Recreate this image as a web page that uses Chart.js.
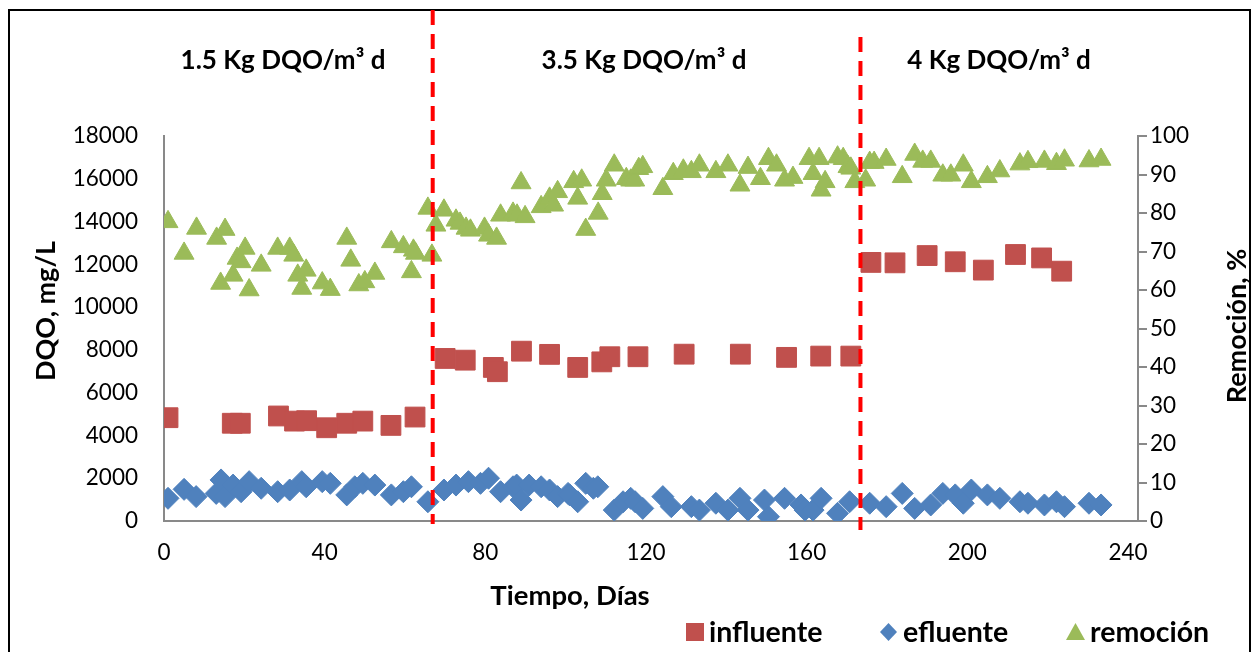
<!DOCTYPE html>
<html><head><meta charset="utf-8">
<script src="https://cdn.jsdelivr.net/npm/chart.js@4/dist/chart.umd.min.js"></script>
<style>html,body{margin:0;padding:0;background:#fff;}#wrap{width:1256px;height:652px;}</style>
</head><body><div id="wrap"><canvas id="c" width="1256" height="652"></canvas></div>
<script>
// ---- data ----
const influenteDays = [1,17,19,28.5,32.5,35.5,40.5,45.5,49.5,56.5,62.5,70,75,82,83,89,96,103,109,111,118,129.5,143.5,155,163.5,171,176,182,190,197,204,212,218.5,223.5];
const influenteValues = [4830,4570,4570,4910,4670,4690,4360,4570,4670,4470,4860,7600,7520,7180,6980,7940,7790,7180,7440,7680,7680,7800,7800,7650,7710,7710,12090,12070,12410,12120,11730,12460,12300,11680];

const efluenteDays = [1,5,8,13,14.2,15.2,17.2,19.2,21.2,24.2,28.3,31.3,34.3,35.4,39.4,41.4,45.5,47.5,49.5,52.5,56.6,59.6,61.6,65.7,69.7,72.7,75.8,78.8,80.8,83.8,86.9,87.8,88.9,90.9,93.9,96,98,100.6,101,103,105,106.9,108,112.1,114.3,116.2,117.3,119.2,124.2,126.3,131.3,133.3,137.4,140.4,143.4,145.4,149.5,150.5,154.5,158.6,159.6,161.6,163.6,167.7,170.7,175.7,179.8,183.8,186.9,190.9,193.9,197,199,201,205,208.1,213.1,215.1,219.2,222.2,224.2,230.3,233.3];
const efluenteValues = [1060,1480,1140,1290,1920,1140,1680,1370,1840,1530,1370,1450,1840,1600,1840,1760,1220,1600,1760,1680,1220,1370,1600,900,1450,1680,1840,1760,2000,1370,1600,1680,980,1680,1600,1450,1140,1290,1220,900,1760,1530,1600,510,900,1060,900,590,1140,670,670,510,830,510,1060,510,980,200,1060,750,510,510,1060,360,900,830,670,1290,590,750,1290,1220,830,1450,1220,1060,900,830,750,900,670,830,750];

const remocionDays = [1,5,8.1,13.1,14.1,15.2,17.2,18.2,19.2,20.2,21.2,24.2,28.3,31.3,32.3,33.3,34.3,35.4,39.4,41.4,45.5,46.5,48.5,50,52.5,56.6,59.6,61.6,62.1,62.6,65.7,66.7,67.7,69.7,72.7,73.7,75.2,76.3,79.8,80.8,82.8,83.8,86.9,87.9,88.9,89.9,93.9,96,97,98,102,103,104,105,108.1,109.1,110.1,112.1,115.1,116.2,117.2,118.2,119.2,124.2,126.8,129.3,131.3,133.3,137.4,140.4,143.4,145.4,148.5,150.5,152.5,154.5,156.6,160.6,161.6,163.1,163.6,164.6,167.7,169.1,170.3,171,172,174.7,175.7,176.8,179.8,183.8,186.9,188.9,190.9,193.9,195.9,199,201,205,208.1,213.1,215.1,219.2,222.2,224.2,230.3,233.3];
const remocionValues = [77.7,69.5,76.0,73.4,61.7,75.7,63.8,68.2,67.3,70.8,60.0,66.4,70.8,70.8,69.0,63.8,60.4,65.1,61.8,60.1,73.4,67.7,61.3,62.1,64.3,72.5,71.2,64.7,70.3,69.5,81.2,69.0,76.8,80.7,78.1,77.3,76.0,75.5,76.0,74.2,73.4,79.4,79.9,79.4,87.8,79.0,81.6,83.8,82.0,85.5,88.1,83.8,88.5,75.7,79.9,85.0,88.5,92.4,88.9,88.5,88.5,91.5,92.0,86.3,90.2,91.1,90.7,92.4,90.7,92.4,87.2,91.8,88.9,94.1,92.4,88.5,89.2,94.1,90.2,94.1,85.9,88.1,94.5,94.1,92.0,91.6,88.1,88.5,93.1,93.1,93.9,89.4,95.2,93.4,93.4,89.8,89.8,92.4,88.1,89.4,90.9,92.7,93.3,93.4,92.8,93.7,93.5,93.9];

const xTicks = [0,40,80,120,160,200,240];
const yLeftTicks = [0,2000,4000,6000,8000,10000,12000,14000,16000,18000];
const yRightTicks = [0,10,20,30,40,50,60,70,80,90,100];
const phaseBoundaries = [66.9, 173.4];
const phaseLabels = ['1.5 Kg DQO/m³ d', '3.5 Kg DQO/m³ d', '4 Kg DQO/m³ d'];
const seriesNames = ['influente', 'efluente', 'remoción'];

// ---- styles ----
const RED = '#C0504D', BLUE = '#4F81BD', GREEN = '#9BBB59', AXIS = '#898989';
const FONT = 'Lato';
const pts = (xs, ys) => xs.map((x, i) => ({x, y: ys[i]}));

const overlay = {
  id: 'overlay',
  afterDraw(chart) {
    const ctx = chart.ctx, xs = chart.scales.x;
    ctx.save();
    // outer frame
    ctx.strokeStyle = '#000'; ctx.lineWidth = 2;
    ctx.strokeRect(9, 10, 1241, 700);
    // dashed phase lines
    ctx.strokeStyle = '#FF0000'; ctx.lineWidth = 4; ctx.setLineDash([15, 9]);
    const tops = [10, 37], bots = [524, 530];
    phaseBoundaries.forEach((d, i) => {
      const px = xs.getPixelForValue(d);
      ctx.beginPath(); ctx.moveTo(px, tops[i]); ctx.lineTo(px, bots[i]); ctx.stroke();
    });
    ctx.setLineDash([]);
    // phase labels
    ctx.fillStyle = '#000';
    ctx.font = 'bold 26px ' + FONT;
    ctx.textAlign = 'center'; ctx.textBaseline = 'alphabetic';
    const labelCenters = [283, 644, 999];
    phaseLabels.forEach((t, i) => ctx.fillText(t, labelCenters[i], 69));
    // axis titles
    ctx.font = 'bold 27.5px ' + FONT;
    ctx.fillText('Tiempo, Días', 570, 605);
    ctx.font = 'bold 27px ' + FONT;
    ctx.save(); ctx.translate(55, 311); ctx.rotate(-Math.PI / 2); ctx.fillText('DQO, mg/L', 0, 0); ctx.restore();
    ctx.save(); ctx.translate(1246, 326); ctx.rotate(-Math.PI / 2); ctx.fillText('Remoción, %', 0, 0); ctx.restore();
    // legend
    ctx.font = 'bold 28.5px ' + FONT; ctx.textAlign = 'left';
    const ly = 632;
    ctx.fillStyle = RED; ctx.fillRect(686, ly - 9, 18, 18);
    ctx.fillStyle = BLUE; ctx.beginPath();
    ctx.moveTo(888.5, ly - 9); ctx.lineTo(897, ly); ctx.lineTo(888.5, ly + 9); ctx.lineTo(880, ly); ctx.closePath(); ctx.fill();
    ctx.fillStyle = GREEN; ctx.beginPath();
    ctx.moveTo(1075.5, ly - 9); ctx.lineTo(1085, ly + 8); ctx.lineTo(1066, ly + 8); ctx.closePath(); ctx.fill();
    ctx.fillStyle = '#000';
    ctx.fillText(seriesNames[0], 709, ly + 10);
    ctx.fillText(seriesNames[1], 903, ly + 10);
    ctx.fillText(seriesNames[2], 1090, ly + 10);
    ctx.restore();
  }
};

const tickFont = {family: FONT, size: 22.5};
const plain = v => String(v);
new Chart(document.getElementById('c'), {
  type: 'scatter',
  data: {
    datasets: [
      {label: seriesNames[0], data: pts(influenteDays, influenteValues), yAxisID: 'y', pointStyle: 'rect', pointRadius: 14, backgroundColor: RED, borderColor: RED, borderWidth: 1},
      {label: seriesNames[1], data: pts(efluenteDays, efluenteValues), yAxisID: 'y', pointStyle: 'rectRot', pointRadius: 11, backgroundColor: BLUE, borderColor: BLUE, borderWidth: 1},
      {label: seriesNames[2], data: pts(remocionDays, remocionValues), yAxisID: 'y2', pointStyle: 'triangle', pointRadius: 11.5, backgroundColor: GREEN, borderColor: GREEN, borderWidth: 1}
    ]
  },
  options: {
    responsive: false, animation: false, events: [], devicePixelRatio: 1,
    layout: {padding: {top: 136, left: 0, right: 0, bottom: 0}},
    plugins: {legend: {display: false}, tooltip: {enabled: false}},
    scales: {
      x: {
        type: 'linear', min: 0, max: 242.5,
        afterBuildTicks: s => { s.ticks = xTicks.map(v => ({value: v})); },
        ticks: {font: tickFont, color: '#000', padding: 18, maxRotation: 0, callback: plain},
        grid: {drawOnChartArea: false, drawTicks: false},
        border: {display: true, color: AXIS, width: 2},
        afterFit: s => { s.height = 131; }
      },
      y: {
        position: 'left', min: 0, max: 18000,
        afterBuildTicks: s => { s.ticks = yLeftTicks.map(v => ({value: v})); },
        ticks: {font: tickFont, color: '#000', padding: 26, callback: plain},
        grid: {drawOnChartArea: false, drawTicks: false},
        border: {display: true, color: AXIS, width: 2},
        afterFit: s => { s.width = 164; }
      },
      y2: {
        position: 'right', min: 0, max: 100,
        afterBuildTicks: s => { s.ticks = yRightTicks.map(v => ({value: v})); },
        ticks: {font: tickFont, color: '#000', padding: 3, callback: plain},
        grid: {drawOnChartArea: false, drawTicks: true, tickLength: 9, color: AXIS, lineWidth: 2},
        border: {display: true, color: AXIS, width: 2},
        afterFit: s => { s.width = 118; }
      }
    }
  },
  plugins: [overlay]
});
</script></body></html>
